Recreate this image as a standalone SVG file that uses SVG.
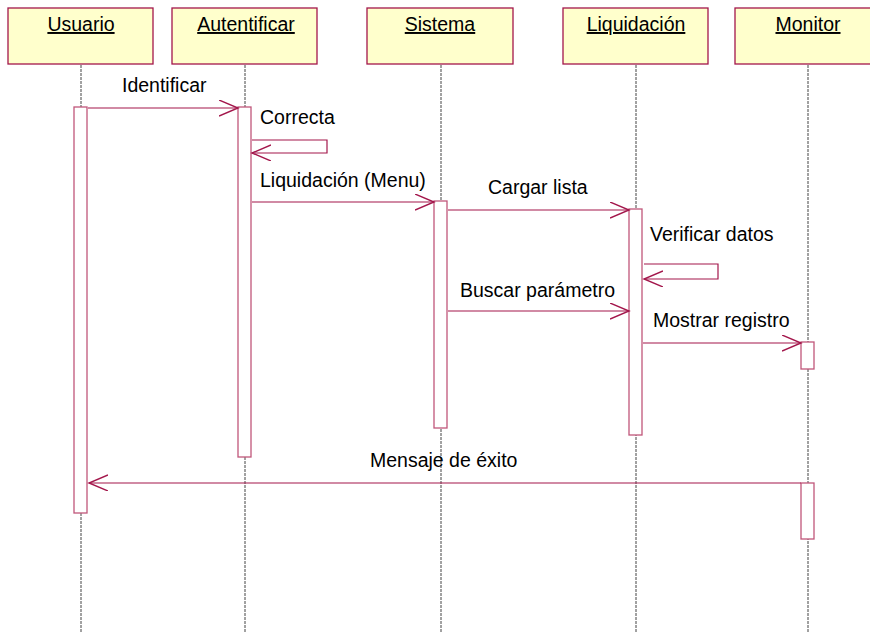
<svg xmlns="http://www.w3.org/2000/svg" width="870" height="633" viewBox="0 0 870 633">
<style>
.hdr{fill:#FFFFCC;stroke:#A3164B;stroke-width:1.3}
.ht{font-family:"Liberation Sans",Arial,sans-serif;font-size:19.5px;fill:#000;text-anchor:middle;text-decoration:underline}
.life{stroke:#444;stroke-width:1;stroke-dasharray:3,1;fill:none}
.act{fill:#fff;stroke:#C0567A;stroke-width:1.3}
.msg{stroke:#A3164B;stroke-width:1.2;fill:none}
.lbl{font-family:"Liberation Sans",Arial,sans-serif;font-size:19.5px;fill:#000}
</style>
<defs>
<marker id="ah" markerUnits="userSpaceOnUse" markerWidth="22" markerHeight="20" refX="19" refY="8" orient="auto">
<path d="M0,0 L19,8 L0,16" fill="none" stroke="#A3164B" stroke-width="1.4"/>
</marker>
</defs>
<rect width="870" height="633" fill="#fff"/>
<g id="usuario">
<rect class="hdr" x="8" y="8" width="145" height="56"/>
<text class="ht" x="81" y="31">Usuario</text>
<line class="life" x1="81" y1="65" x2="81" y2="633"/>
<rect class="act" x="74" y="107" width="13" height="406"/>
</g>
<g id="autentificar">
<rect class="hdr" x="172" y="8" width="145" height="56"/>
<text class="ht" x="246" y="31">Autentificar</text>
<line class="life" x1="245" y1="65" x2="245" y2="633"/>
<rect class="act" x="238" y="107" width="13" height="350"/>
</g>
<g id="sistema">
<rect class="hdr" x="367" y="8" width="146" height="56"/>
<text class="ht" x="440" y="31">Sistema</text>
<line class="life" x1="441" y1="65" x2="441" y2="633"/>
<rect class="act" x="434" y="201" width="13" height="227"/>
</g>
<g id="liquidacion">
<rect class="hdr" x="563" y="8" width="145" height="56"/>
<text class="ht" x="636" y="31">Liquidación</text>
<line class="life" x1="636" y1="65" x2="636" y2="633"/>
<rect class="act" x="629" y="209" width="13" height="226"/>
</g>
<g id="monitor">
<rect class="hdr" x="735" y="8" width="145" height="56"/>
<text class="ht" x="808" y="31">Monitor</text>
<line class="life" x1="808" y1="65" x2="808" y2="633"/>
<rect class="act" x="801" y="342" width="13" height="27"/>
<rect class="act" x="801" y="483" width="13" height="56"/>
</g>
<g id="connectors">
<line class="msg" x1="88" y1="108" x2="238" y2="108" marker-end="url(#ah)"/>
<polyline class="msg" points="252,140 327,140 327,153 252,153" marker-end="url(#ah)"/>
<line class="msg" x1="252" y1="202" x2="434" y2="202" marker-end="url(#ah)"/>
<line class="msg" x1="448" y1="210" x2="629" y2="210" marker-end="url(#ah)"/>
<polyline class="msg" points="644,264 718,264 718,279 644,279" marker-end="url(#ah)"/>
<line class="msg" x1="448" y1="311" x2="629" y2="311" marker-end="url(#ah)"/>
<line class="msg" x1="643" y1="343" x2="801" y2="343" marker-end="url(#ah)"/>
<line class="msg" x1="801" y1="483" x2="89" y2="483" marker-end="url(#ah)"/>
</g>
<g id="labels">
<text class="lbl" x="122" y="92">Identificar</text>
<text class="lbl" x="260" y="124">Correcta</text>
<text class="lbl" x="260" y="187">Liquidación (Menu)</text>
<text class="lbl" x="488" y="194">Cargar lista</text>
<text class="lbl" x="650" y="241">Verificar datos</text>
<text class="lbl" x="460" y="297">Buscar parámetro</text>
<text class="lbl" x="653" y="327">Mostrar registro</text>
<text class="lbl" x="370" y="467">Mensaje de éxito</text>
</g>
</svg>
